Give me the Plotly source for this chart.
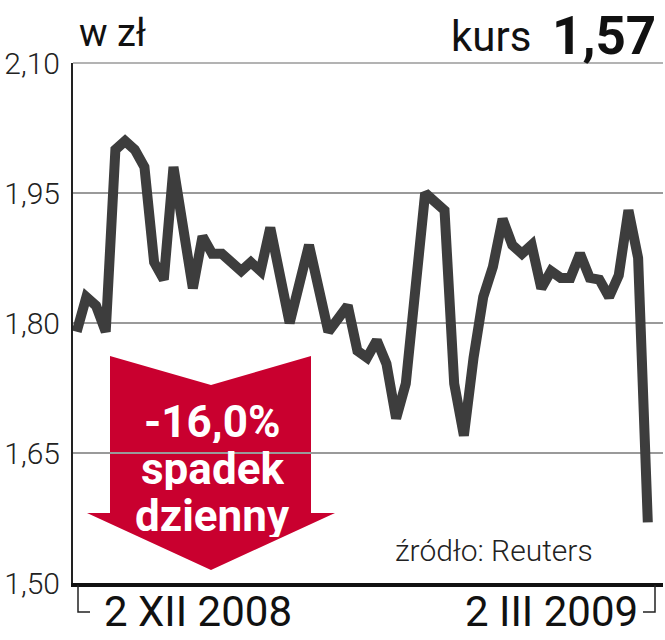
import plotly.graph_objects as go

# ---- data ----
values = [1.79, 1.83, 1.82, 1.79, 2.00, 2.01, 2.00, 1.98, 1.87, 1.85,
          1.98, 1.91, 1.84, 1.90, 1.88, 1.88, 1.87, 1.86, 1.87, 1.86,
          1.91, 1.855, 1.80, 1.845, 1.89, 1.84, 1.79, 1.805, 1.82, 1.768,
          1.76, 1.78, 1.753, 1.69, 1.73, 1.84, 1.95, 1.94, 1.93, 1.73,
          1.67, 1.76, 1.83, 1.865, 1.92, 1.89, 1.88, 1.89, 1.84, 1.86,
          1.852, 1.852, 1.88, 1.852, 1.85, 1.83, 1.855, 1.93, 1.875, 1.57]
index = list(range(len(values)))
y_ticks = [1.50, 1.65, 1.80, 1.95, 2.10]
y_tick_labels = ["1,50", "1,65", "1,80", "1,95", "2,10"]
date_labels = ["2 XII 2008", "2 III 2009"]

W, H = 665, 640
L, R, T, B = 73, 2, 63, 57
PW, PH = W - L - R, H - T - B


def px(x):
    return (x - L) / PW


def py(y):
    return (H - B - y) / PH


LIGHT = "Roboto"
fig = go.Figure()
fig.add_trace(go.Scatter(
    x=index, y=values, mode="lines",
    line=dict(color="#3d3d3d", width=10),
    hoverinfo="skip", showlegend=False,
))

shapes = []
# arrow
cx = 211
poly = [(cx - 101, 356), (cx, 385), (cx + 100, 356), (cx + 100, 513),
        (cx + 124, 513), (cx, 570), (cx - 124, 513), (cx - 101, 513)]
path = "M " + " L ".join(f"{px(a):.5f},{py(b):.5f}" for a, b in poly) + " Z"
shapes.append(dict(type="path", xref="paper", yref="paper", path=path,
                   fillcolor="#c9002f", line=dict(width=0), layer="below"))
# top gridline
shapes.append(dict(type="line", xref="paper", yref="paper", x0=0, x1=1, y0=1, y1=1,
                   line=dict(color="#9a9a9a", width=1.5)))
# brackets
shapes.append(dict(type="path", xref="paper", yref="paper",
                   path=f"M {px(78)},{py(585)} L {px(78)},{py(612)} L {px(90)},{py(612)}",
                   line=dict(color="#222", width=1.5)))
shapes.append(dict(type="path", xref="paper", yref="paper",
                   path=f"M {px(643)},{py(612)} L {px(655)},{py(612)} L {px(655)},{py(585)}",
                   line=dict(color="#222", width=1.5)))

ann = []
ann.append(dict(text="w zł", x=px(77), y=py(33), xanchor="left", yanchor="middle",
                font=dict(family="Roboto", size=38, color="#111")))
ann.append(dict(text="kurs", x=px(533), y=py(37), xanchor="right", yanchor="middle",
                font=dict(family="Roboto", size=42, color="#111")))
ann.append(dict(text="<b>1,57</b>", x=px(658), y=py(36), xanchor="right", yanchor="middle",
                font=dict(family="Roboto", size=53, color="#111")))
ann.append(dict(text=date_labels[0], x=px(198), y=py(611), xanchor="center", yanchor="middle",
                font=dict(family="Roboto", size=42, color="#111")))
ann.append(dict(text=date_labels[1], x=px(551), y=py(611), xanchor="center", yanchor="middle",
                font=dict(family="Roboto", size=42, color="#111")))
ann.append(dict(text="źródło: Reuters", x=px(494), y=py(550), xanchor="center", yanchor="middle",
                font=dict(family=LIGHT, size=30, color="#222", weight=300)))
for t, yy in [("-16,0%", 422), ("spadek", 469), ("dzienny", 516)]:
    ann.append(dict(text=f"<b>{t}</b>", x=px(212), y=py(yy), xanchor="center", yanchor="middle",
                    height=42, valign="middle",
                    font=dict(family="Roboto", size=44, color="white")))
for a in ann:
    a.update(xref="paper", yref="paper", showarrow=False)

fig.update_layout(
    width=W, height=H,
    margin=dict(l=L, r=R, t=T, b=B, pad=0, autoexpand=False),
    paper_bgcolor="white", plot_bgcolor="white",
    shapes=shapes, annotations=ann,
    xaxis=dict(range=[-0.38, 60.57], showgrid=False, zeroline=False, showticklabels=False,
               ticks="", showline=True, linecolor="#111", linewidth=4, automargin=False),
    yaxis=dict(range=[1.50, 2.10], tickvals=y_ticks, ticktext=y_tick_labels,
               showgrid=True, gridcolor="#9a9a9a", gridwidth=1.5, zeroline=False,
               showline=True, linecolor="#222", linewidth=2, ticks="",
               ticklabelstandoff=5, automargin=False,
               tickfont=dict(family=LIGHT, size=30, color="#222", weight=300)),
)
fig.write_html("out.html", config={"displayModeBar": False},
               post_script="document.body.style.margin='0';document.body.style.overflow='hidden';")
